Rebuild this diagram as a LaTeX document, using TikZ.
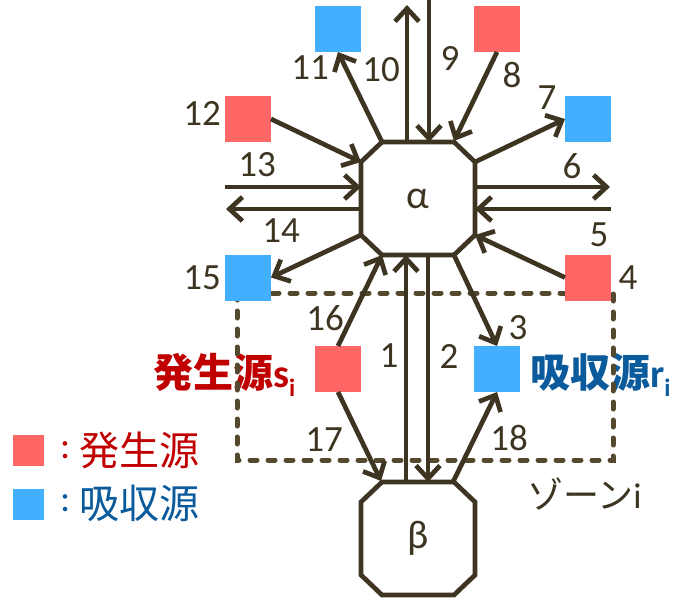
\documentclass[tikz,border=0pt]{standalone}
\usepackage{fontspec}
\setmainfont{Carlito}
\newfontfamily\jp{Noto Sans CJK JP}
\usetikzlibrary{arrows.meta,calc}
\definecolor{ln}{HTML}{3D3422}
\definecolor{dsh}{HTML}{54482E}
\definecolor{sred}{HTML}{FF6666}
\definecolor{sblue}{HTML}{42AFFF}
\definecolor{tred}{HTML}{C00000}
\definecolor{tblue}{HTML}{0A5A9C}
\newcommand\octframe[1]{%
  \draw[ln,line width=4.7pt,line join=miter]
    ($(#1.north west)+(21,0)$) -- ($(#1.north east)+(-21,0)$) --
    ($(#1.north east)+(0,20)$) -- ($(#1.south east)+(0,-20)$) --
    ($(#1.south east)+(-21,0)$) -- ($(#1.south west)+(21,0)$) --
    ($(#1.south west)+(0,-20)$) -- ($(#1.north west)+(0,20)$) -- cycle;}
\begin{document}
\begin{tikzpicture}[x=1pt,y=-1pt,
  conn/.style={draw=ln,line width=4.7pt,-{Straight Barb[length=13pt,width=24pt]}},
  sq/.style={minimum size=46pt,inner sep=0pt,outer sep=0pt},
  redsq/.style={sq,fill=sred},
  bluesq/.style={sq,fill=sblue},
  lsq/.style={minimum size=31pt,inner sep=0pt,outer sep=0pt},
  oct/.style={minimum width=114pt,minimum height=113pt,inner sep=0pt,outer sep=0pt,
    font=\fontsize{40}{40}\selectfont,text=ln},
  num/.style={font=\fontsize{37}{37}\selectfont,text=ln,inner sep=0pt},
  zonebox/.style={draw=dsh,line width=5pt,dash pattern=on 7pt off 11pt,line cap=round},
]
\useasboundingbox (0,0) rectangle (692,606);

% texts of sources / sinks
\node[anchor=west,inner sep=0pt,text=tred,font=\fontsize{40}{40}\selectfont\bfseries] (lsi) at (153,375)
  {{\jp 発生源}s\raisebox{-9pt}{\fontsize{25}{25}\selectfont i}};
\node[anchor=west,inner sep=0pt,text=tblue,font=\fontsize{40}{40}\selectfont\bfseries] (lri) at (530,375)
  {{\jp 吸収源}r\raisebox{-9pt}{\fontsize{25}{25}\selectfont i}};

% zone
\draw[zonebox] (237,293) rectangle (613,460);
\node[anchor=west,inner sep=0pt,text=ln,font=\fontsize{36}{36}\selectfont] (zone) at (527,494)
  {{\jp ゾーン}i};

% squares
\node[bluesq] (sq11) at (338,29) {};
\node[redsq]  (sq8)  at (497,29) {};
\node[redsq]  (sq12) at (248,119) {};
\node[bluesq] (sq7)  at (588,119) {};
\node[bluesq] (sq15) at (248,277.5) {};
\node[redsq]  (sq4)  at (588,277.5) {};
\node[redsq]  (si)   at (338,369) {};
\node[bluesq] (ri)   at (497,369) {};

% zones
\node[oct] (alpha) at (418,198.5) {α};
\node[oct] (beta)  at (418,538.5) {β};

% free ends
\coordinate (t9)  at (429,0);
\coordinate (t10) at (407,5);
\coordinate (t13) at (225,187);
\coordinate (t14) at (226,209);
\coordinate (t6)  at (610,187);
\coordinate (t5)  at (611,209);

% connectors
\draw[conn] (t9) -- (t9 |- alpha.north);
\draw[conn] (t10 |- alpha.north) -- (t10);
\draw[conn] ($(alpha.north west)+(21,0)$) -- (sq11.south);
\draw[conn] (sq8.south) -- ($(alpha.north east)+(-21,-1)$);
\draw[conn] ($(alpha.north east)+(0,20)$) -- (sq7.west);
\draw[conn] (sq12.east) -- ($(alpha.north west)+(0,20)$);
\draw[conn] (t13) -- (t13 -| alpha.west);
\draw[conn] (t14 -| alpha.west) -- (t14);
\draw[conn] (t6 -| alpha.east) -- (t6);
\draw[conn] (t5) -- (t5 -| alpha.east);
\draw[conn] ($(alpha.south west)+(0,-20)$) -- (sq15.east);
\draw[conn] (sq4.west) -- ($(alpha.south east)+(0,-20)$);
\draw[conn] (si.north) -- ($(alpha.south west)+(21,0)$);
\draw[conn] ($(alpha.south east)+(-21,0)$) -- (ri.north);
\draw[conn] ($(beta.north)+(-12,0)$) -- ($(alpha.south)+(-12,0)$);
\draw[conn] ($(alpha.south)+(10,0)$) -- ($(beta.north)+(10,0)$);
\draw[conn] (si.south) -- ($(beta.north west)+(20,-1)$);
\draw[conn] ($(beta.north east)+(-22,0)$) -- (ri.south);

\octframe{alpha}
\octframe{beta}

% numbers
\node[num] (n1)  at (389,356) {1};
\node[num] (n2)  at (449,356) {2};
\node[num] (n3)  at (518,328) {3};
\node[num] (n4)  at (628,278) {4};
\node[num] (n5)  at (599,235) {5};
\node[num] (n6)  at (572,166) {6};
\node[num] (n7)  at (547,98)  {7};
\node[num] (n8)  at (512,75)  {8};
\node[num] (n9)  at (450,58)  {9};
\node[num] (n10) at (381,70)  {10};
\node[num] (n11) at (310,68)  {11};
\node[num] (n12) at (202,113) {12};
\node[num] (n13) at (257,165) {13};
\node[num] (n14) at (281,231) {14};
\node[num] (n15) at (202,278) {15};
\node[num] (n16) at (325,318) {16};
\node[num] (n17) at (324,440) {17};
\node[num] (n18) at (509,438) {18};

% legend
\node[lsq,fill=sred]  (lgr) at (28.5,450.5) {};
\node[lsq,fill=sblue] (lgb) at (28.5,504) {};
\node[anchor=west,inner sep=0pt,text=tred,font=\fontsize{38}{38}\selectfont] (lgrc) at (60,450) {:};
\node[anchor=west,inner sep=0pt,text=tred,font=\jp\fontsize{40}{40}\selectfont] (lgrt) at (79,450) {発生源};
\node[anchor=west,inner sep=0pt,text=tblue,font=\fontsize{38}{38}\selectfont] (lgbc) at (60,503) {:};
\node[anchor=west,inner sep=0pt,text=tblue,font=\jp\fontsize{40}{40}\selectfont] (lgbt) at (79,503) {吸収源};
\end{tikzpicture}
\end{document}
